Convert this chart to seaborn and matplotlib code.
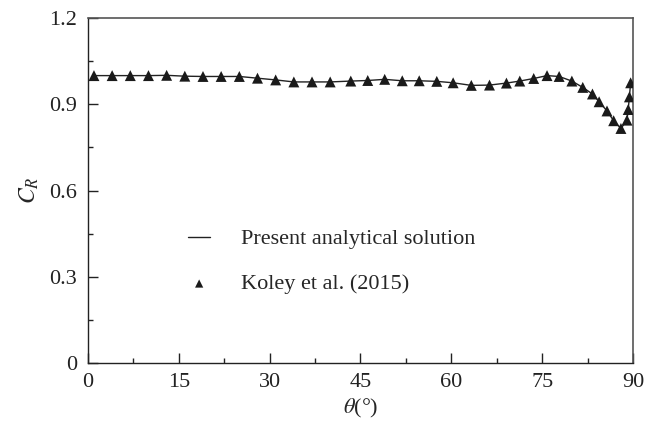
import matplotlib
matplotlib.use("Agg")
import matplotlib.pyplot as plt
import seaborn as sns
import pandas as pd

theta = [1, 4, 7, 10, 13, 16, 19, 22, 25, 28, 31, 34, 37, 40, 43.4, 46.2, 49, 51.9,
         54.7, 57.6, 60.3, 63.3, 66.3, 69.1, 71.3, 73.6, 75.8, 77.8, 79.9, 81.7, 83.3,
         84.4, 85.7, 86.8, 88.0, 89.0, 89.2, 89.4, 89.6]
cr = [1.0, 1.0, 1.0, 1.0, 1.001, 0.998, 0.997, 0.997, 0.997, 0.991, 0.985, 0.978,
      0.978, 0.978, 0.981, 0.983, 0.987, 0.982, 0.982, 0.980, 0.975, 0.966, 0.967,
      0.974, 0.981, 0.990, 1.0, 0.997, 0.981, 0.959, 0.936, 0.909, 0.877, 0.843,
      0.816, 0.845, 0.882, 0.926, 0.975]

xticks = [0, 15, 30, 45, 60, 75, 90]
yticks = [0, 0.3, 0.6, 0.9, 1.2]
ytick_labels = ["0", "0.3", "0.6", "0.9", "1.2"]
labels = ["Present analytical solution", "Koley et al. (2015)"]

sns.set_style("ticks")
plt.rcParams['font.family'] = ['Liberation Serif', 'DejaVu Serif']
plt.rcParams['mathtext.fontset'] = 'stix'
plt.rcParams['font.size'] = 16

df = pd.DataFrame({"theta": theta, "cr": cr})

fig = plt.figure(figsize=(6.56, 4.22), dpi=100)
ax = fig.add_axes([0.134, 0.140, 0.831, 0.817])

sns.lineplot(data=df, x="theta", y="cr", ax=ax, color="#222222", linewidth=1.0,
             label=labels[0], sort=False, estimator=None)
sns.scatterplot(data=df, x="theta", y="cr", ax=ax, marker="^", s=62, color="#1a1a1a",
                edgecolor="none", label=labels[1], zorder=3)

ax.set_xlim(0, 90)
ax.set_ylim(0, 1.2)
ax.set_xticks(xticks)
ax.set_xticklabels([str(t) for t in xticks])
ax.set_yticks(yticks)
ax.set_yticklabels(ytick_labels)
ax.set_xticks([7.5, 22.5, 37.5, 52.5, 67.5, 82.5], minor=True)
ax.set_yticks([0.15, 0.45, 0.75, 1.05], minor=True)
ax.tick_params(which="major", direction="in", length=7, width=1, labelsize=16, colors="#222222")
ax.tick_params(which="minor", direction="in", length=3.5, width=1, colors="#222222")
ax.tick_params(axis="x", pad=7)
ax.tick_params(axis="y", pad=8)

for s in ["left", "bottom"]:
    ax.spines[s].set_color("#222222")
    ax.spines[s].set_linewidth(1.0)
for s in ["top", "right"]:
    ax.spines[s].set_visible(True)
    ax.spines[s].set_color("#555555")
    ax.spines[s].set_linewidth(1.2)

ax.set_xlabel(r"$\theta$(°)", fontsize=16, labelpad=4)
ax.set_ylabel(r"$C_R$", fontsize=17, labelpad=6)

leg = ax.legend(loc="upper left", bbox_to_anchor=(0.147, 0.447), frameon=False,
                handlelength=1.0, handletextpad=1.4, labelspacing=1.1, fontsize=16,
                markerscale=0.75)

fig.savefig("out.png", dpi=100)
